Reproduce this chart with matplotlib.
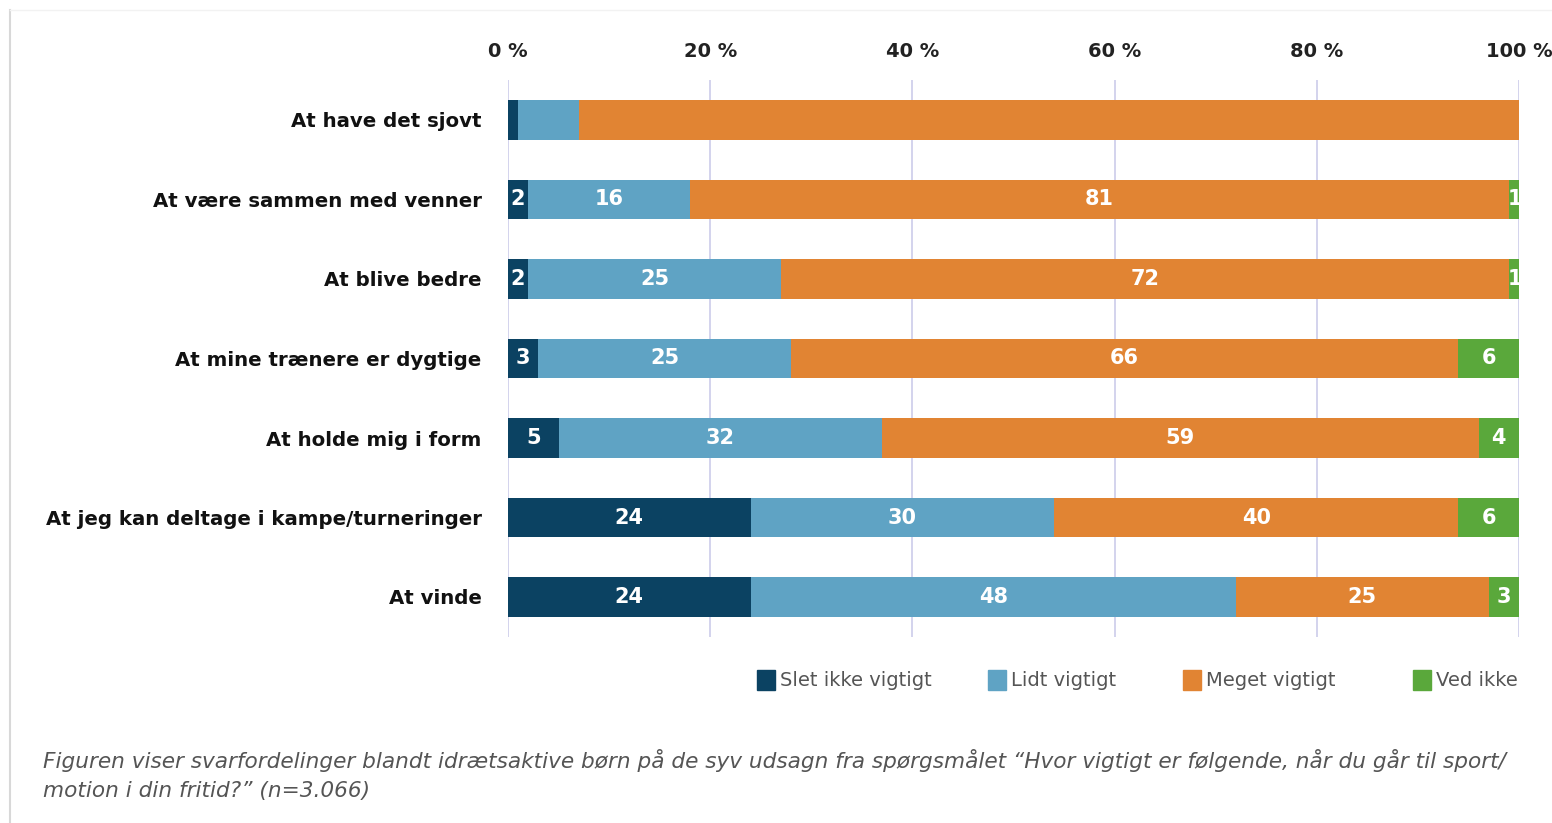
import matplotlib
matplotlib.use("Agg")
import matplotlib.pyplot as plt
import numpy as np
from matplotlib.lines import Line2D
from matplotlib.patches import Rectangle

categories = [
    "At have det sjovt",
    "At være sammen med venner",
    "At blive bedre",
    "At mine trænere er dygtige",
    "At holde mig i form",
    "At jeg kan deltage i kampe/turneringer",
    "At vinde",
]
slet_ikke = [1, 2, 2, 3, 5, 24, 24]
lidt = [6, 16, 25, 25, 32, 30, 48]
meget = [93, 81, 72, 66, 59, 40, 25]
ved_ikke = [0, 1, 1, 6, 4, 6, 3]
show_labels = [False, True, True, True, True, True, True]

series_names = ["Slet ikke vigtigt", "Lidt vigtigt", "Meget vigtigt", "Ved ikke"]
colors = ["#0b4262", "#5fa3c4", "#e18433", "#5aa83b"]
xticks = [0, 20, 40, 60, 80, 100]
xticklabels = ["0 %", "20 %", "40 %", "60 %", "80 %", "100 %"]
caption = ("Figuren viser svarfordelinger blandt idrætsaktive børn på de syv udsagn fra spørgsmålet "
           "\u201cHvor vigtigt er følgende, når du går til sport/\nmotion i din fritid?\u201d (n=3.066)")

W, H = 1552, 823
fig = plt.figure(figsize=(W / 100, H / 100), dpi=100)
fig.patch.set_facecolor("white")

# axes: 0% at x=508, 100% at x=1519
x0, x1 = 508 / W, 1519 / W
ytop, ybot = 80, 637
ax = fig.add_axes([x0, 1 - ybot / H, x1 - x0, (ybot - ytop) / H])
ax.set_xlim(0, 100)
n = len(categories)
ax.set_ylim(6 + (ybot - 597) / 79.5, 0 - (120 - ytop) / 79.5)

ypos = np.arange(n)
data = [slet_ikke, lidt, meget, ved_ikke]
left = np.zeros(n)
for s, (vals, col) in enumerate(zip(data, colors)):
    vals = np.array(vals, dtype=float)
    ax.barh(ypos, vals, left=left, height=0.5, color=col, zorder=3)
    for i in range(n):
        if show_labels[i] and vals[i] > 0:
            cx = left[i] + vals[i] / 2
            if vals[i] <= 1:
                cx = left[i] + vals[i] * 0.55
            ax.text(cx, ypos[i], f"{int(vals[i])}", ha="center", va="center",
                    color="white", fontsize=15, fontweight="bold", zorder=4)
    left += vals

ax.set_xticks(xticks)
ax.set_xticklabels(xticklabels, fontsize=14, fontweight="bold", color="#222222")
ax.xaxis.tick_top()
ax.tick_params(axis="x", length=0, pad=14)
ax.set_yticks(ypos)
ax.set_yticklabels(categories, fontsize=14.2, fontweight="bold", color="#111111")
ax.tick_params(axis="y", length=0, pad=19)
for sp in ax.spines.values():
    sp.set_visible(False)
ax.grid(axis="x", color="#ccccea", linewidth=1.2, zorder=0)
ax.set_axisbelow(True)

# legend (manually placed entries)
legend_x = [757, 988, 1183, 1413]
ly = 680
for name, col, lx in zip(series_names, colors, legend_x):
    fig.add_artist(Rectangle((lx / W, 1 - (ly + 10) / H), 18 / W, 20 / H,
                             color=col, transform=fig.transFigure))
    fig.text((lx + 23) / W, 1 - ly / H, name, fontsize=14, color="#555555",
             ha="left", va="center")

# caption
fig.text(43 / W, 1 - 775 / H, caption, fontsize=15.6, style="italic", color="#555555",
         ha="left", va="center", linespacing=1.6)

# border lines
fig.add_artist(Line2D([10 / W, 10 / W], [0, 1 - 10 / H], color="#d8d8d8", linewidth=1.5))
fig.add_artist(Line2D([10 / W, 1], [1 - 10 / H, 1 - 10 / H], color="#f2f2f2", linewidth=1.0))

fig.savefig("out.png", dpi=100, facecolor="white")
